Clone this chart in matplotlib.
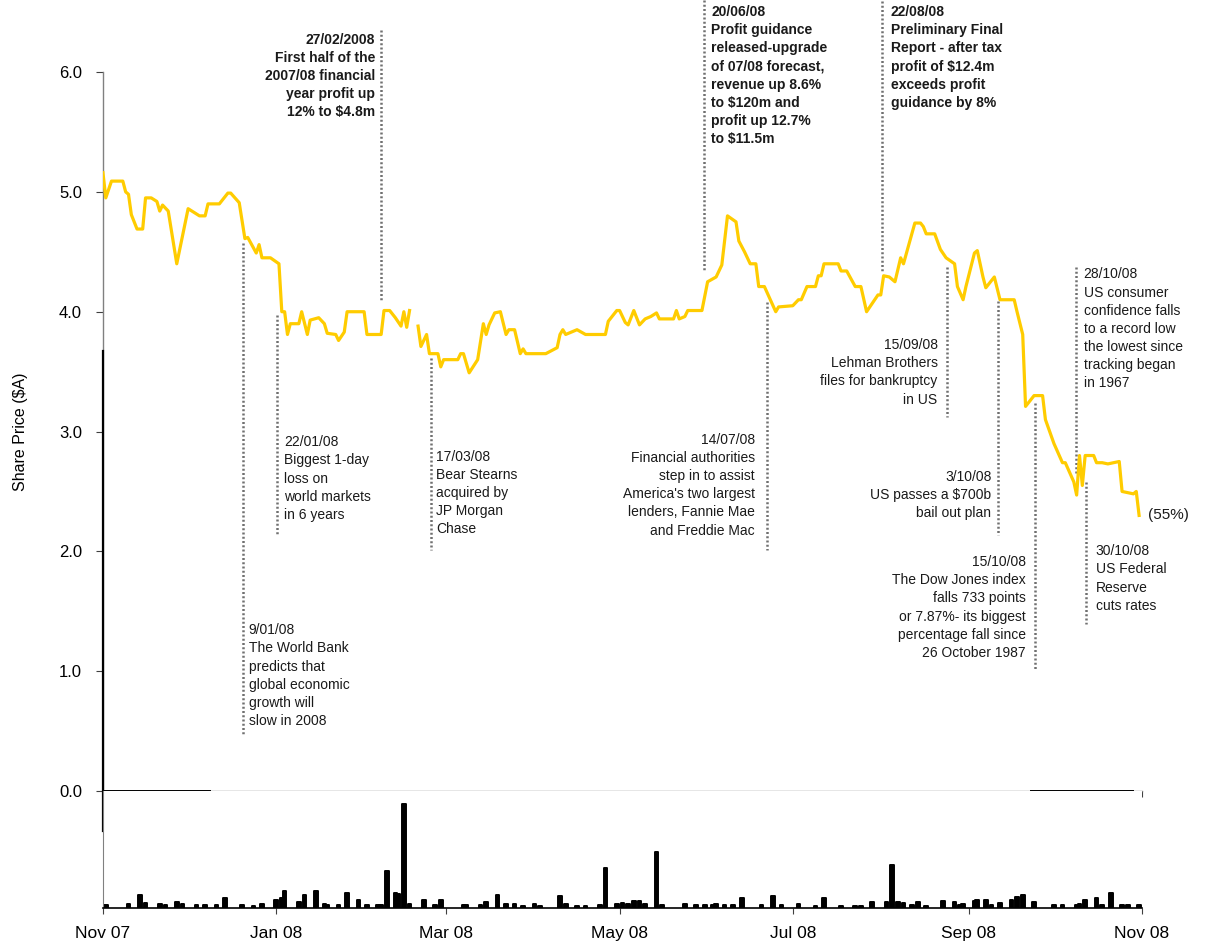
import numpy as np
import pandas as pd
import matplotlib
matplotlib.use('Agg')
import matplotlib.pyplot as plt
import matplotlib.dates as mdates
from matplotlib.ticker import FormatStrFormatter

plt.rcParams['font.family'] = ['Liberation Sans', 'DejaVu Sans']

start = pd.Timestamp('2007-11-01')

# share price ($A); x = days after 1 Nov 2007, NaN = no quote
price_day = [0, 1, 3, 7, 8, 9, 10, 12, 14, 15, 17, 19, 20, 21, 23, 26, 30, 34, 36, 37,
             41, 44, 45, 48, 50, 51, 54, 55, 56, 59, 62, 63, 64, 65, 66, 69, 70, 72, 73, 76,
             78, 79, 82, 83, 85, 86, 92, 93, 98, 99, 101, 103, 105, 106, 107, 108, 109.5,
             111, 112, 114, 115, 118, 119, 120, 125, 126, 127, 129, 132, 134, 135, 136, 138,
             140, 142, 143, 145, 147, 148, 149, 156, 160, 161, 162, 163, 167, 170, 177, 178,
             181, 182, 184, 185, 187, 189, 191, 193, 195, 196, 201, 202, 203, 205, 206, 211,
             213, 216, 218, 220, 223, 224, 226, 228, 230, 231, 233, 237, 238, 243, 245, 246,
             248, 251, 252, 253, 254, 259, 260, 262, 265, 267, 269, 273, 274, 275, 277, 279,
             281, 282, 286, 288, 289, 290, 293, 295, 297, 300, 301, 303, 304, 307, 308, 310,
             311, 314, 316, 321, 322, 324, 325, 328, 331, 332, 335, 338, 339, 342, 343, 344,
             345, 346, 349, 350, 352, 354, 358, 359, 363, 364, 365]
price = [5.16, 4.95, 5.09, 5.09, 5.00, 4.98, 4.81, 4.69, 4.69, 4.95, 4.95, 4.92, 4.84, 4.89,
         4.84, 4.40, 4.86, 4.80, 4.80, 4.90, 4.90, 4.99, 4.99, 4.91, 4.61, 4.62, 4.49, 4.56,
         4.45, 4.45, 4.40, 4.00, 4.00, 3.81, 3.90, 3.90, 4.00, 3.81, 3.93, 3.95, 3.90, 3.82,
         3.81, 3.76, 3.83, 4.00, 4.00, 3.81, 3.81, 4.01, 4.01, 3.95, 3.88, 4.00, 3.87, 4.01,
         np.nan,
         3.88, 3.71, 3.81, 3.65, 3.65, 3.54, 3.60, 3.60, 3.65, 3.65, 3.49, 3.60, 3.90, 3.81,
         3.89, 3.99, 4.00, 3.81, 3.85, 3.85, 3.65, 3.69, 3.65, 3.65, 3.70, 3.81, 3.85, 3.81,
         3.85, 3.81, 3.81, 3.92, 4.01, 4.01, 3.91, 3.89, 4.01, 3.89, 3.94, 3.96, 3.99, 3.94,
         3.94, 4.01, 3.94, 3.96, 4.01, 4.01, 4.25, 4.29, 4.39, 4.80, 4.75, 4.59, 4.50, 4.40,
         4.40, 4.21, 4.21, 4.00, 4.04, 4.05, 4.10, 4.10, 4.21, 4.21, 4.30, 4.30, 4.40, 4.40,
         4.34, 4.34, 4.21, 4.21, 4.00, 4.14, 4.14, 4.30, 4.29, 4.25, 4.45, 4.40, 4.74, 4.74,
         4.71, 4.65, 4.65, 4.52, 4.45, 4.40, 4.21, 4.10, 4.21, 4.49, 4.51, 4.29, 4.20, 4.29,
         4.10, 4.10, 4.00, 3.81, 3.21, 3.30, 3.30, 3.10, 2.90, 2.74, 2.74, 2.58, 2.47, 2.80,
         2.55, 2.80, 2.80, 2.74, 2.74, 2.73, 2.75, 2.50, 2.48, 2.50, 2.30]

# daily volume (relative)
vol_day = [1, 9, 13, 15, 20, 22, 26, 28, 33, 36, 40, 43, 49, 53, 56, 61, 63, 64, 69, 71,
           75, 78, 79, 83, 86, 90, 93, 97, 98, 100, 103, 104, 106, 108, 113, 117, 119, 127,
           128, 133, 135, 139, 142, 145, 148, 152, 154, 161, 163, 167, 170, 175, 177, 181,
           183, 185, 187, 189, 191, 195, 197, 205, 209, 212, 215, 216, 219, 222, 225, 232,
           236, 239, 245, 251, 254, 260, 265, 267, 271, 276, 278, 280, 282, 285, 287, 290,
           296, 300, 302, 303, 307, 308, 311, 313, 316, 320, 322, 324, 328, 335, 338, 343,
           344, 346, 350, 352, 355, 359, 361, 365]
volume = [2.7, 4, 13, 5, 3.7, 2.5, 6, 4, 2.5, 2.5, 2.5, 9.5, 2.5, 2, 3.5, 8, 10, 17, 6, 13,
          17, 4, 3, 2.5, 15, 8, 2.5, 2.5, 2.5, 37, 15, 13.5, 104, 4, 8, 2.5, 8, 2.5,
          2.5, 2.5, 5.7, 13, 3.7, 3.7, 2, 3.7, 2, 11.5, 4, 2, 2, 2.5, 40, 4,
          4.5, 4, 6.5, 7, 3.5, 56, 2.5, 3.7, 2.5, 2.5, 3, 4.3, 3, 3, 10, 2.5,
          11.5, 2.5, 3.7, 2, 10, 2, 2, 2, 5.7, 5.7, 43, 5.7, 4.5, 3, 6, 2,
          6.5, 6, 3, 3.7, 7, 8.3, 8, 2.5, 5, 7.5, 10.5, 13, 6, 3, 2.5, 3,
          4.3, 8.3, 10, 3, 15, 2.5, 3, 3]

notes = [
    '27/02/2008\nFirst half of the\n2007/08 financial\nyear profit up\n12% to $4.8m',
    '9/01/08\nThe World Bank\npredicts that\nglobal economic\ngrowth will\nslow in 2008',
    '22/01/08\nBiggest 1-day\nloss on\nworld markets\nin 6 years',
    '17/03/08\nBear Stearns\nacquired by\nJP Morgan\nChase',
    '20/06/08\nProfit guidance\nreleased-upgrade\nof 07/08 forecast,\nrevenue up 8.6%\n'
    'to $120m and\nprofit up 12.7%\nto $11.5m',
    "14/07/08\nFinancial authorities\nstep in to assist\nAmerica's two largest\n"
    'lenders, Fannie Mae\nand Freddie Mac',
    '22/08/08\nPreliminary Final\nReport - after tax\nprofit of $12.4m\nexceeds profit\nguidance by 8%',
    '15/09/08\nLehman Brothers\nfiles for bankruptcy\nin US',
    '3/10/08\nUS passes a $700b\nbail out plan',
    '15/10/08\nThe Dow Jones index\nfalls 733 points\nor 7.87%- its biggest\n'
    'percentage fall since\n26 October 1987',
    '28/10/08\nUS consumer\nconfidence falls\nto a record low\nthe lowest since\n'
    'tracking began\nin 1967',
    '30/10/08\nUS Federal\nReserve\ncuts rates',
]

# layout of each note: line x, line top, line bottom, text x, text top, align, bold
note_layout = [
    (97.9, 6.35, 4.08, 95.8, 6.33, 'right', True),
    (49.4, 4.57, 0.47, 51.4, 1.40, 'left', False),
    (61.2, 3.97, 2.14, 63.8, 2.97, 'left', False),
    (115.5, 3.61, 2.01, 117.3, 2.85, 'left', False),
    (211.8, 6.60, 4.34, 214.2, 6.56, 'left', True),
    (233.8, 4.08, 2.01, 229.7, 2.99, 'right', False),
    (274.6, 6.59, 4.33, 277.6, 6.56, 'left', True),
    (297.2, 4.37, 3.12, 294.0, 3.78, 'right', False),
    (315.4, 4.09, 2.14, 313.0, 2.68, 'right', False),
    (328.5, 3.24, 1.01, 325.0, 1.97, 'right', False),
    (342.7, 4.37, 2.64, 345.5, 4.37, 'left', False),
    (346.3, 2.58, 1.39, 349.7, 2.06, 'left', False),
]


def d(day):
    return start + pd.to_timedelta(day, unit='D')


fig = plt.figure(figsize=(12.07, 9.47), dpi=100)
ax = fig.add_axes([0.0853, 0.1647, 0.8608, 0.7592])
axv = fig.add_axes([0.0853, 0.0412, 0.8608, 0.1235], sharex=ax)

ax.plot(d(np.array(price_day)), price, color='#FFCC00', lw=2.3, zorder=4)

# stray black segments seen on the axes of the original
ax.plot([d(0), d(0)], [3.67, -0.33], color='black', lw=1.6, clip_on=False, zorder=5)
ax.plot([d(0), d(37.7)], [0, 0], color='black', lw=1.4, clip_on=False, zorder=5)
ax.plot([d(327), d(363)], [0, 0], color='black', lw=1.4, clip_on=False, zorder=5)

for text, (lx, ltop, lbot, tx, ty, ha, bold) in zip(notes, note_layout):
    ax.plot([d(lx), d(lx)], [ltop, lbot], color='#707070', lw=1.8,
            linestyle=(0, (0.8, 0.9)), clip_on=False, zorder=3)
    ax.text(d(tx), ty, text, ha=ha, va='top', fontsize=10, linespacing=1.38,
            fontweight='bold' if bold else 'normal', color='#1a1a1a', clip_on=False)

ax.text(d(368), 2.30, '(55%)', ha='left', va='center', fontsize=11, color='#1a1a1a')

ax.set_ylim(0, 6)
ax.set_yticks(np.arange(0, 7, 1))
ax.yaxis.set_major_formatter(FormatStrFormatter('%.1f'))
ax.set_ylabel('Share Price ($A)', fontsize=11.5)
ax.yaxis.set_label_coords(-0.072, 0.5)
ax.tick_params(axis='y', direction='out', length=5, width=0.8, pad=10,
               labelsize=12, color='#404040')
ax.tick_params(axis='x', direction='out', length=4, width=0.8, color='#404040',
               labelbottom=False)
for s in ['top', 'right']:
    ax.spines[s].set_visible(False)
for s in ['left', 'bottom']:
    ax.spines[s].set_color('#808080')
    ax.spines[s].set_linewidth(1)

axv.bar(d(np.array(vol_day)), volume, width=1.3, color='black', edgecolor='black',
        linewidth=1.4, joinstyle='round')
axv.set_ylim(0, 117)
axv.set_yticks([])
axv.set_xlim(d(0), d(366))
axv.xaxis.set_major_locator(mdates.MonthLocator(bymonth=[1, 3, 5, 7, 9, 11]))
axv.xaxis.set_major_formatter(mdates.DateFormatter('%b %y'))
axv.tick_params(axis='x', direction='out', length=4, width=0.8, pad=9,
                labelsize=12.5, color='#404040')
for s in ['top', 'right']:
    axv.spines[s].set_visible(False)
axv.spines['left'].set_color('#808080')
axv.spines['bottom'].set_color('black')
axv.spines['bottom'].set_linewidth(1.2)

fig.savefig('out.png', dpi=100)
